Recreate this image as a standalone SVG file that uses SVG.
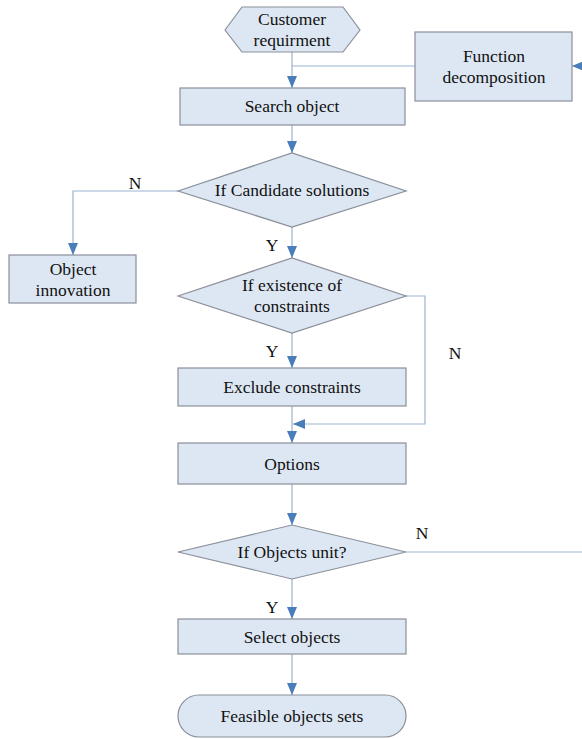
<svg xmlns="http://www.w3.org/2000/svg" width="582" height="739" viewBox="0 0 582 739">
<style>
.n{fill:#dde7f3;stroke:#8a8f99;stroke-width:1.2}
text{font-family:'Liberation Serif','DejaVu Serif',serif;font-size:17.5px;fill:#111;text-anchor:middle}
.c{fill:none;stroke:#9ab3d3;stroke-width:1.2}
.a{fill:#4a7ebb}
</style>
<defs>
<marker id="ah" markerWidth="12" markerHeight="10" refX="12" refY="5" orient="auto" markerUnits="userSpaceOnUse">
<path d="M0,0 L12,5 L0,10 Z" class="a"/>
</marker>
</defs>
<rect width="582" height="739" fill="#fff"/>
<g id="connectors">
<path class="c" d="M292,52 V88" marker-end="url(#ah)"/>
<path class="c" d="M415,66 H292"/>
<path class="c" d="M582,66 H572" marker-end="url(#ah)"/>
<path class="c" d="M292,125 V153" marker-end="url(#ah)"/>
<path class="c" d="M178,191 H73 V255" marker-end="url(#ah)"/>
<path class="c" d="M292,227 V258" marker-end="url(#ah)"/>
<path class="c" d="M292,333 V368" marker-end="url(#ah)"/>
<path class="c" d="M406,296 H425 V424 H293" marker-end="url(#ah)"/>
<path class="c" d="M292,406 V443" marker-end="url(#ah)"/>
<path class="c" d="M292,484 V525" marker-end="url(#ah)"/>
<path class="c" d="M406,552 H582"/>
<path class="c" d="M292,579 V619" marker-end="url(#ah)"/>
<path class="c" d="M292,654 V695" marker-end="url(#ah)"/>
<text x="135" y="189">N</text>
<text x="272" y="251">Y</text>
<text x="272" y="357">Y</text>
<text x="455" y="359">N</text>
<text x="422" y="539">N</text>
<text x="272" y="613">Y</text>
</g>
<g id="customer">
<polygon class="n" points="225,30 242,7 343,7 360,30 343,52 242,52"/>
<text x="292" y="25">Customer</text>
<text x="292" y="46">requirment</text>
</g>
<g id="function">
<rect class="n" x="415" y="32" width="157" height="69"/>
<text x="494" y="62">Function</text>
<text x="494" y="83">decomposition</text>
</g>
<g id="search">
<rect class="n" x="180" y="88" width="225" height="37"/>
<text x="292" y="112">Search object</text>
</g>
<g id="candidate">
<polygon class="n" points="178,191 292,153 406,191 292,227"/>
<text x="292" y="196">If Candidate solutions</text>
</g>
<g id="innovation">
<rect class="n" x="9" y="255" width="127" height="48"/>
<text x="73" y="275">Object</text>
<text x="73" y="296">innovation</text>
</g>
<g id="existence">
<polygon class="n" points="178,296 292,258 406,296 292,333"/>
<text x="292" y="291">If existence of</text>
<text x="292" y="312">constraints</text>
</g>
<g id="exclude">
<rect class="n" x="178" y="368" width="228" height="38"/>
<text x="292" y="393">Exclude constraints</text>
</g>
<g id="options">
<rect class="n" x="178" y="443" width="228" height="41"/>
<text x="292" y="470">Options</text>
</g>
<g id="unit">
<polygon class="n" points="178,552 292,525 406,552 292,579"/>
<text x="292" y="558">If Objects unit?</text>
</g>
<g id="select">
<rect class="n" x="178" y="619" width="228" height="35"/>
<text x="292" y="643">Select objects</text>
</g>
<g id="feasible">
<rect class="n" x="178" y="695" width="228" height="42" rx="21" ry="21"/>
<text x="292" y="722">Feasible objects sets</text>
</g>
</svg>
